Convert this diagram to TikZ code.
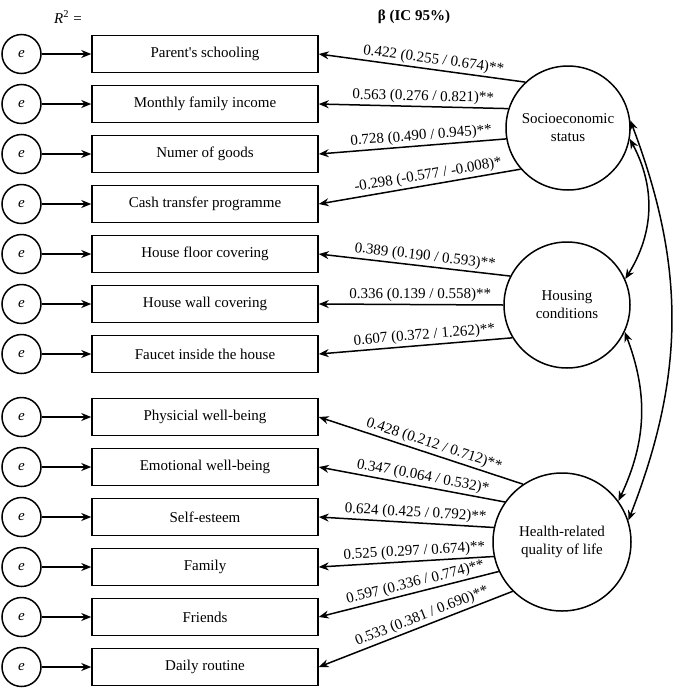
\documentclass[tikz,border=0pt]{standalone}
\usepackage{fontspec}
\newfontfamily\diagfont{Liberation Serif}
\usetikzlibrary{arrows.meta,positioning}

\begin{document}
\begin{tikzpicture}[
  x=0.5pt,y=-0.5pt,
  font=\diagfont\fontsize{7.5}{9}\selectfont,
  >={Stealth[length=5pt,width=4pt]},
  ind/.style={draw,line width=0.75pt,minimum width=113pt,minimum height=18.5pt,
    inner sep=0pt},
  err/.style={draw,circle,line width=0.75pt,minimum size=19.5pt,inner sep=0pt},
  lat/.style={draw,circle,line width=0.75pt,align=center,inner sep=0pt},
  eflow/.style={->,line width=0.75pt},
  load/.style={->,line width=0.75pt},
  cov/.style={<->,line width=0.75pt},
  coef/.style={pos=0.45,above,sloped,inner sep=1pt}
]
  \useasboundingbox (0,0) rectangle (677,691);

  % headings
  \node (r2) at (68,17) {\textit{R}\textsuperscript{2} =};
  \node[font=\diagfont\fontsize{7.5}{9}\selectfont\bfseries] (beta) at (414,17) {β (IC 95\%)};

  % observed indicators
  \node[ind] (b1) at (205,54) {Parent's schooling};
  \node[ind] (b2) at (205,104) {Monthly family income};
  \node[ind] (b3) at (205,154) {Numer of goods};
  \node[ind] (b4) at (205,204) {Cash transfer programme};
  \node[ind] (b5) at (205,254) {House floor covering};
  \node[ind] (b6) at (205,304) {House wall covering};
  \node[ind] (b7) at (205,354) {Faucet inside the house};
  \node[ind] (b8) at (205,417) {Physicial well-being};
  \node[ind] (b9) at (205,467) {Emotional well-being};
  \node[ind] (b10) at (205,517) {Self-esteem};
  \node[ind] (b11) at (205,567) {Family};
  \node[ind] (b12) at (205,617) {Friends};
  \node[ind] (b13) at (205,667) {Daily routine};

  % error terms
  \foreach \i in {1,...,13} {
    \node[err,left=24.75pt of b\i] (e\i) {\textit{e}};
    \draw[eflow] (e\i) -- (b\i);
  }

  % latent factors
  \node[lat,minimum size=62pt] (ses) at (568,128) {Socioeconomic\\status};
  \node[lat,minimum size=63pt] (hou) at (567,305) {Housing\\conditions};
  \node[lat,minimum size=69pt] (hrq) at (562,542) {Health-related\\quality of life};

  \draw[load] (ses.133) -- node[coef] {0.422 (0.255 / 0.674)**} (b1.east);
  \draw[load] (ses.162) -- node[coef] {0.563 (0.276 / 0.821)**} (b2.east);
  \draw[load] (ses.190) -- node[coef] {0.728 (0.490 / 0.945)**} (b3.east);
  \draw[load] (ses.221) -- node[coef] {-0.298 (-0.577 / -0.008)*} (b4.east);

  \draw[load] (hou.153) -- node[coef] {0.389 (0.190 / 0.593)**} (b5.east);
  \draw[load] (hou.180) -- node[coef] {0.336 (0.139 / 0.558)**} (b6.east);
  \draw[load] (hou.211) -- node[coef] {0.607 (0.372 / 1.262)**} (b7.east);

  \draw[load] (hrq.124) -- node[coef] {0.428 (0.212 / 0.712)**} (b8.east);
  \draw[load] (hrq.145) -- node[coef] {0.347 (0.064 / 0.532)*} (b9.east);
  \draw[load] (hrq.168) -- node[coef] {0.624 (0.425 / 0.792)**} (b10.east);
  \draw[load] (hrq.192) -- node[coef] {0.525 (0.297 / 0.674)**} (b11.east);
  \draw[load] (hrq.205) -- node[coef] {0.597 (0.336 / 0.774)**} (b12.east);
  \draw[load] (hrq.225) -- node[coef] {0.533 (0.381 / 0.690)**} (b13.east);

  % correlations between factors
  \draw[cov] (ses.-10) to[bend left=30] (hou.24);
  \draw[cov] (hou.-25) to[bend left=23] (hrq.36);
  \draw[cov] (ses.7) to[bend left=21] (hrq.18);
\end{tikzpicture}
\end{document}
